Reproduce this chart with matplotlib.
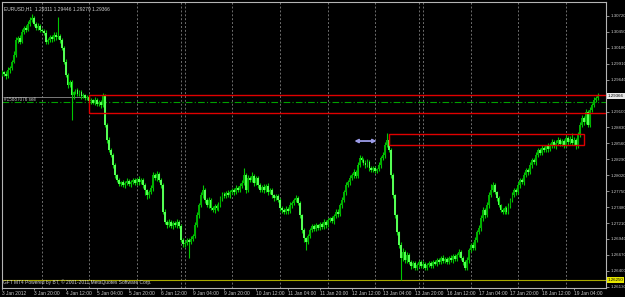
import numpy as np
import pandas as pd
import matplotlib
matplotlib.use("Agg")
import matplotlib.pyplot as plt
import matplotlib.transforms as mtransforms
from matplotlib.patches import Rectangle, FancyArrowPatch

FONT = ["Liberation Sans Narrow", "Liberation Sans", "DejaVu Sans"]
plt.rcParams["font.family"] = FONT

# ---------------- data ----------------
header_text = "EURUSD,H1  1.29311 1.29446 1.29279 1.29366"
order_label = "#15887076 sell"
footer_text = "GFT MT4 Powered by BT, \u00a9 2001-2011 MetaQuotes Software Corp."

sessions = [("2012-01-03 04:00", "2012-01-06 21:00"),
            ("2012-01-08 22:00", "2012-01-13 21:00"),
            ("2012-01-15 22:00", "2012-01-19 16:00")]

first_open_pips = 12975
close_pips = [
    12977, 12974, 12970, 12980, 12984, 12994, 13006, 13031, 13035, 13028, 13045, 13052, 13048, 13058, 13065, 13069, 13058, 13052, 13055, 13048,
    13047, 13043, 13028, 13031, 13036, 13033, 13040, 13036, 13038, 13031, 13018, 12994, 12972, 12955, 12960, 12938, 12943, 12946, 12940, 12943,
    12936, 12938, 12933, 12935, 12928, 12930, 12925, 12930, 12923, 12926, 12921, 12936, 12887, 12862, 12845, 12836, 12819, 12802, 12794, 12787,
    12790, 12785, 12789, 12792, 12787, 12790, 12794, 12789, 12795, 12790, 12794, 12785, 12777, 12768, 12773, 12780, 12802, 12797, 12804, 12794,
    12785, 12740, 12723, 12717, 12723, 12716, 12721, 12717, 12723, 12716, 12692, 12685, 12687, 12692, 12689, 12694, 12699, 12717, 12734, 12751,
    12768, 12777, 12760, 12751, 12760, 12746, 12743, 12750, 12746, 12751, 12763, 12770, 12767, 12772, 12768, 12773, 12777, 12773, 12780, 12777,
    12784, 12789, 12802, 12777, 12797, 12794, 12801, 12789, 12797, 12785, 12777, 12782, 12777, 12784, 12773, 12777, 12768, 12763, 12767, 12760,
    12746, 12743, 12740, 12745, 12741, 12751, 12755, 12760, 12763, 12755, 12734, 12709, 12695, 12689, 12699, 12709, 12716, 12711, 12717, 12712,
    12719, 12714, 12723, 12717, 12726, 12729, 12724, 12733, 12740, 12736, 12751, 12760, 12773, 12785, 12790, 12797, 12802, 12807, 12801, 12819,
    12831, 12828, 12823, 12819, 12824, 12814, 12811, 12814, 12809, 12812, 12819, 12831, 12836, 12853, 12862, 12845, 12802, 12768, 12734, 12705,
    12684, 12662, 12672, 12658, 12667, 12655, 12648, 12653, 12645, 12650, 12655, 12648, 12652, 12645, 12650, 12653, 12648, 12655, 12652, 12658,
    12655, 12662, 12657, 12660, 12655, 12662, 12658, 12665, 12660, 12667, 12672, 12662, 12655, 12645, 12658, 12675, 12684, 12679, 12692, 12705,
    12712, 12729, 12743, 12734, 12751, 12768, 12777, 12785, 12773, 12763, 12751, 12743, 12740, 12746, 12740, 12750, 12760, 12768, 12777, 12773,
    12785, 12794, 12790, 12802, 12811, 12807, 12819, 12828, 12824, 12836, 12845, 12840, 12848, 12845, 12851, 12846, 12853, 12858, 12851, 12857,
    12862, 12855, 12860, 12853, 12865, 12858, 12864, 12857, 12862, 12851, 12870, 12887, 12899, 12892, 12909, 12887, 12913, 12921, 12930, 12933,
    12937,
]
upper_wick_pips = [
    3, 2, 4, 5, 3, 4, 6, 5, 3, 4, 5, 3, 4, 6, 5, 6, 3, 4, 5, 3,
    4, 3, 5, 3, 4, 3, 5, 4, 32, 3, 4, 3, 5, 4, 3, 4, 2, 3, 4, 3,
    3, 4, 2, 3, 4, 3, 2, 4, 3, 3, 4, 5, 4, 3, 5, 3, 4, 3, 2, 4,
    3, 4, 3, 5, 3, 4, 3, 4, 3, 5, 3, 4, 3, 2, 4, 6, 5, 4, 6, 3,
    4, 3, 4, 3, 5, 3, 4, 3, 4, 3, 4, 3, 4, 3, 4, 5, 4, 5, 6, 4,
    5, 8, 4, 3, 5, 3, 4, 3, 4, 5, 4, 3, 4, 3, 5, 4, 3, 4, 5, 3,
    4, 5, 12, 4, 5, 4, 6, 3, 4, 3, 4, 3, 5, 3, 4, 3, 4, 3, 4, 3,
    3, 4, 3, 4, 3, 5, 4, 3, 5, 4, 3, 3, 4, 3, 4, 3, 4, 3, 4, 3,
    4, 3, 4, 3, 4, 3, 4, 3, 4, 5, 4, 5, 4, 5, 4, 5, 4, 5, 4, 6,
    5, 4, 3, 4, 5, 3, 4, 3, 4, 3, 5, 4, 5, 6, 12, 4, 3, 4, 3, 3,
    3, 4, 6, 3, 4, 3, 4, 3, 4, 3, 4, 3, 4, 3, 4, 3, 4, 3, 4, 3,
    4, 3, 4, 3, 4, 3, 4, 3, 4, 3, 5, 3, 3, 4, 5, 4, 3, 4, 5, 4,
    5, 6, 5, 4, 6, 5, 10, 6, 4, 3, 4, 3, 4, 3, 4, 5, 4, 5, 4, 3,
    5, 4, 3, 5, 4, 3, 5, 4, 3, 5, 4, 3, 5, 4, 3, 5, 4, 6, 3, 4,
    5, 3, 4, 3, 6, 4, 5, 10, 4, 3, 5, 6, 5, 4, 6, 4, 5, 4, 5, 4,
    4,
]
lower_wick_pips = [
    4, 3, 5, 3, 4, 3, 2, 3, 4, 3, 2, 4, 3, 2, 3, 4, 3, 4, 3, 4,
    3, 4, 3, 4, 3, 5, 3, 4, 3, 4, 3, 4, 3, 5, 4, 42, 6, 4, 3, 4,
    4, 3, 4, 3, 4, 5, 3, 4, 3, 4, 5, 3, 4, 5, 4, 3, 4, 5, 4, 3,
    4, 3, 4, 3, 4, 5, 3, 4, 3, 4, 3, 4, 8, 6, 4, 3, 4, 3, 4, 3,
    4, 3, 4, 5, 3, 4, 5, 3, 4, 3, 4, 5, 4, 3, 27, 4, 3, 4, 3, 4,
    3, 4, 5, 3, 4, 3, 4, 5, 3, 4, 3, 4, 3, 4, 3, 4, 3, 4, 3, 4,
    3, 4, 3, 5, 4, 3, 4, 5, 3, 4, 3, 4, 5, 3, 4, 3, 4, 5, 3, 4,
    4, 5, 4, 3, 4, 3, 4, 3, 4, 3, 4, 5, 6, 14, 4, 3, 4, 3, 4, 3,
    3, 4, 3, 4, 3, 4, 3, 4, 3, 4, 3, 4, 3, 4, 3, 4, 3, 4, 3, 4,
    3, 4, 3, 4, 3, 4, 3, 4, 3, 4, 3, 4, 3, 4, 3, 4, 5, 4, 5, 4,
    5, 38, 5, 4, 5, 4, 5, 4, 3, 4, 3, 4, 3, 4, 3, 4, 3, 4, 3, 4,
    3, 4, 3, 4, 3, 4, 3, 4, 3, 4, 3, 4, 5, 4, 3, 4, 3, 4, 3, 4,
    3, 4, 5, 4, 3, 4, 3, 4, 3, 4, 3, 4, 3, 4, 3, 4, 3, 4, 3, 4,
    3, 4, 3, 4, 3, 4, 3, 4, 3, 4, 3, 4, 3, 4, 3, 4, 3, 4, 3, 4,
    3, 4, 3, 4, 3, 4, 3, 4, 3, 4, 3, 4, 3, 4, 3, 4, 3, 4, 3, 4,
    3,
]

y_tick_values = [1.30720, 1.30450, 1.30180, 1.29910, 1.29640, 1.29100, 1.28830,
                 1.28560, 1.28290, 1.28020, 1.27750, 1.27480, 1.27210, 1.26940,
                 1.26670, 1.26400, 1.26130]
x_tick_times = ["2012-01-03 04:00", "2012-01-03 20:00", "2012-01-04 12:00", "2012-01-05 04:00",
                "2012-01-05 20:00", "2012-01-06 12:00", "2012-01-09 04:00", "2012-01-09 20:00",
                "2012-01-10 12:00", "2012-01-11 04:00", "2012-01-11 20:00", "2012-01-12 12:00",
                "2012-01-13 04:00", "2012-01-13 20:00", "2012-01-16 12:00", "2012-01-17 04:00",
                "2012-01-17 20:00", "2012-01-18 12:00", "2012-01-19 04:00"]
x_tick_labels = ["3 Jan 2012", "3 Jan 20:00", "4 Jan 12:00", "5 Jan 04:00", "5 Jan 20:00",
                 "6 Jan 12:00", "9 Jan 04:00", "9 Jan 20:00", "10 Jan 12:00", "11 Jan 04:00",
                 "11 Jan 20:00", "12 Jan 12:00", "13 Jan 04:00", "13 Jan 20:00", "16 Jan 12:00",
                 "17 Jan 04:00", "17 Jan 20:00", "18 Jan 12:00", "19 Jan 04:00"]

current_price = 1.29366
yellow_line_price = 1.26250
order_line_price = 1.29260
order_entry_price = 1.29350
order_text_price = 1.29300
rect1_start, rect1_top, rect1_bottom = "2012-01-05 00:00", 1.29380, 1.29070
rect2_start, rect2_end, rect2_top, rect2_bottom = "2012-01-13 07:00", "2012-01-19 09:00", 1.28720, 1.28530
arrow_start, arrow_end, arrow_price = "2012-01-12 12:00", "2012-01-13 02:00", 1.28600

# ---------------- derived ----------------
times = pd.DatetimeIndex(np.concatenate(
    [pd.date_range(a, b, freq="h").values for a, b in sessions]))
n = len(times)
idx = np.arange(n)
cp = np.array(close_pips, dtype=float)
op = np.r_[first_open_pips, cp[:-1]]
hp = np.maximum(op, cp) + np.array(upper_wick_pips)
lp = np.minimum(op, cp) - np.array(lower_wick_pips)
closes, opens, highs, lows = cp / 1e4, op / 1e4, hp / 1e4, lp / 1e4


def pos(t):
    return times.get_loc(pd.Timestamp(t))


# ---------------- figure ----------------
W, H = 625, 297
fig = plt.figure(figsize=(W / 100, H / 100), dpi=100, facecolor="black")
ax = fig.add_axes([2 / W, 9 / H, 604 / W, 286 / H], facecolor="black")
ax.set_xlim(0.4, 304.1)
ax.set_ylim(1.26108, 1.30957)

for s in ax.spines.values():
    s.set_color("#b4b4b4")
    s.set_linewidth(0.8)

# day separators
dates = times.normalize()
sep = [i for i in range(1, n) if dates[i] != dates[i - 1]]
ax.vlines(sep, 1.26108, 1.30957, colors="#6e6e6e", linestyles=(0, (2, 2)), lw=0.7, zorder=1)

# candles
bull = closes >= opens
body_col = np.where(bull, "#00b000", "#55ff55")
ax.vlines(idx, lows, highs, colors="#00c800", lw=0.8, zorder=3)
ax.bar(idx, np.abs(closes - opens), bottom=np.minimum(opens, closes), width=0.95,
       color=body_col, linewidth=0, zorder=4)

# objects
ax.axhline(order_line_price, color="#00a000", lw=0.8, linestyle=(0, (6, 2, 1, 2)), zorder=2)
ax.hlines(order_entry_price, 0.4, pos(rect1_start), colors="#8c8c8c", lw=0.6, zorder=2)
ax.text(1.2, order_text_price, order_label, color="#c8c8c8", fontsize=3.3, va="center", ha="left", zorder=6)

x1 = pos(rect1_start)
ax.add_patch(Rectangle((x1, rect1_bottom), 320 - x1, rect1_top - rect1_bottom,
                       fill=False, ec="#e00000", lw=1.0, zorder=5, clip_on=True))
x2a, x2b = pos(rect2_start), pos(rect2_end)
ax.add_patch(Rectangle((x2a, rect2_bottom), x2b - x2a, rect2_top - rect2_bottom,
                       fill=False, ec="#e00000", lw=1.0, zorder=5))
ax.add_patch(FancyArrowPatch((pos(arrow_start), arrow_price), (pos(arrow_end), arrow_price),
                             arrowstyle="<|-|>", mutation_scale=5, color="#9c9ce8", lw=1.3, zorder=6))

ax.axhline(yellow_line_price, color="#a8a800", lw=0.8, zorder=2)

# texts
ax.text(0.004, 0.985, header_text, transform=ax.transAxes, color="#d0d0d0", fontsize=3.5,
        va="top", ha="left")
ax.text(0.002, 0.012, footer_text, transform=ax.transAxes, color="#d0d0d0", fontsize=3.5,
        va="bottom", ha="left")

# axes ticks
ax.yaxis.tick_right()
ax.set_yticks(y_tick_values)
ax.set_yticklabels([f"{v:.5f}" for v in y_tick_values])
ax.tick_params(axis="y", colors="#c8c8c8", labelsize=3.2, length=2, width=0.5, pad=1.0)
ax.set_xticks([pos(t) for t in x_tick_times])
ax.set_xticklabels(x_tick_labels)
ax.tick_params(axis="x", colors="#c8c8c8", labelsize=3.5, length=1.5, width=0.5, pad=0.8)
for lbl in ax.get_xticklabels():
    lbl.set_horizontalalignment("left")

blend = mtransforms.blended_transform_factory(ax.transAxes, ax.transData)
ax.text(1.003, current_price, f"{current_price:.5f}", transform=blend, color="black",
        fontsize=3.2, va="center", ha="left",
        bbox=dict(boxstyle="square,pad=0.2", fc="#e8e8e8", ec="none"), zorder=10, clip_on=False)
ax.text(1.003, yellow_line_price, f"{yellow_line_price:.5f}", transform=blend, color="black",
        fontsize=3.2, va="center", ha="left",
        bbox=dict(boxstyle="square,pad=0.2", fc="#e8e800", ec="none"), zorder=10, clip_on=False)

fig.savefig("out.png", dpi=100, facecolor="black")
